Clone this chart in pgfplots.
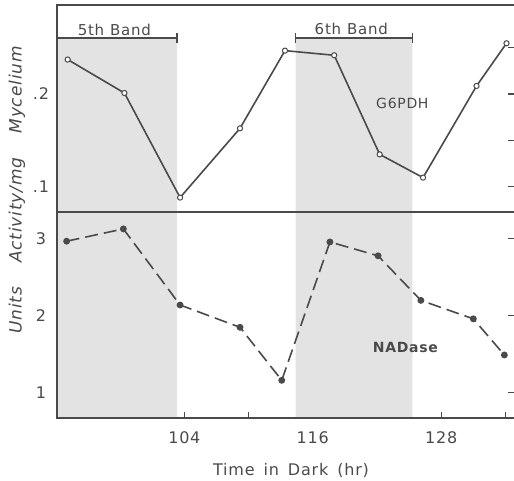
\documentclass[border=0pt]{standalone}
\usepackage{pgfplots}
\pgfplotsset{compat=1.18}
\usepackage{fontspec}
\setmainfont{DejaVu Sans}[LetterSpace=5]
\definecolor{ink}{HTML}{4A4A4A}
\definecolor{shade}{HTML}{E3E3E3}
\pgfplotstableread{
x y
93.1 0.237
98.4 0.201
103.6 0.0885
109.2 0.163
113.4 0.2466
118.0 0.2416
122.25 0.135
126.3 0.110
131.3 0.2086
134.1 0.2545
}\gsixpdh
\pgfplotstableread{
x y
93.0 2.97
98.3 3.13
103.6 2.14
109.2 1.85
113.1 1.16
117.6 2.96
122.1 2.78
126.1 2.20
131.0 1.96
133.9 1.49
}\nadase
\begin{document}
\begin{tikzpicture}[x=1pt,y=1pt]
\path[use as bounding box] (-57,-63) rectangle (457,418);
\pgfplotsset{
  panel/.style={
    scale only axis, width=457pt,
    xmin=92.1, xmax=134.8,
    axis line style={draw=none},
    tick align=inside,
    major tick length=6pt, minor tick length=6pt,
    tick style={ink, line width=1.2pt},
    ytick pos=both,
    yticklabel style={anchor=center, xshift=-16pt, font=\fontsize{16}{19}\selectfont, text=ink},
    xticklabel style={anchor=center, yshift=-20pt, font=\fontsize{16}{19}\selectfont, text=ink},
    clip=false,
  },
}
% bottom panel
\begin{axis}[panel, name=bot, at={(0,0)}, anchor=south west, height=206pt,
  ymin=0.67, ymax=3.35,
  ytick={1,2,3}, yticklabels={1,2,3},
  xtick={98,104,110,116,122,128,134}, xticklabels={,104,,116,,128,},
  xtick pos=left,
]
\addplot[draw=none, fill=shade] coordinates {(92.1,0.67) (103.3,0.67) (103.3,3.35) (92.1,3.35) (92.1,0.67)};
\addplot[draw=none, fill=shade] coordinates {(114.4,0.67) (125.3,0.67) (125.3,3.35) (114.4,3.35) (114.4,0.67)};
\addplot[ink, line width=1.6pt, dash pattern=on 13pt off 6pt, mark=*, mark size=2.6pt, mark options={solid, fill=ink}] table[x=x,y=y] {\nadase};
\node[font=\fontsize{14}{17}\selectfont\bfseries, text=ink] at (axis cs:124.65,1.583) {NADase};
\draw[ink, line width=1.6pt] (rel axis cs:1,0) -- (rel axis cs:0,0) -- (rel axis cs:0,1) -- (rel axis cs:1,1);
\end{axis}
% top panel
\begin{axis}[panel, at={(bot.north west)}, anchor=south west, height=207pt,
  ymin=0.073, ymax=0.2957,
  ytick={0.1,0.15,0.2,0.25}, yticklabels={.1,,.2,},
  xtick=\empty,
]
\addplot[draw=none, fill=shade] coordinates {(92.1,0.073) (103.3,0.073) (103.3,0.2602) (92.1,0.2602) (92.1,0.073)};
\addplot[draw=none, fill=shade] coordinates {(114.4,0.073) (125.3,0.073) (125.3,0.2602) (114.4,0.2602) (114.4,0.073)};
\addplot[ink, line width=1.4pt] coordinates {(92.1,0.2602) (103.3,0.2602)};
\addplot[ink, line width=1.4pt] coordinates {(103.3,0.2656) (103.3,0.2549)};
\addplot[ink, line width=1.4pt] coordinates {(114.4,0.2602) (125.3,0.2602)};
\addplot[ink, line width=1.4pt] coordinates {(114.4,0.2656) (114.4,0.2549)};
\addplot[ink, line width=1.4pt] coordinates {(125.3,0.2656) (125.3,0.2549)};
\node[font=\fontsize{15}{18}\selectfont, text=ink] at (axis cs:97.46,0.2688) {5th\hspace{6pt}Band};
\node[font=\fontsize{15}{18}\selectfont, text=ink] at (axis cs:119.6,0.2699) {6th\hspace{6pt}Band};
\addplot[ink, line width=1.6pt, mark=*, mark size=2.6pt, mark options={fill=white, line width=1pt}] table[x=x,y=y] {\gsixpdh};
\node[font=\fontsize{14}{17}\selectfont, text=ink] at (axis cs:124.37,0.1903) {G6PDH};
\draw[ink, line width=1.6pt] (rel axis cs:1,0) -- (rel axis cs:0,0) -- (rel axis cs:0,1) -- (rel axis cs:1,1);
\end{axis}
\node[rotate=90, font=\fontsize{17}{20}\selectfont\itshape, text=ink] at (-40,228) {Units\hspace{24pt}Activity/mg\hspace{24pt}Mycelium};
\node[font=\fontsize{16}{19}\selectfont, text=ink] at (234,-52) {Time\hspace{9pt}in\hspace{9pt}Dark\hspace{9pt}(hr)};
\end{tikzpicture}
\end{document}
